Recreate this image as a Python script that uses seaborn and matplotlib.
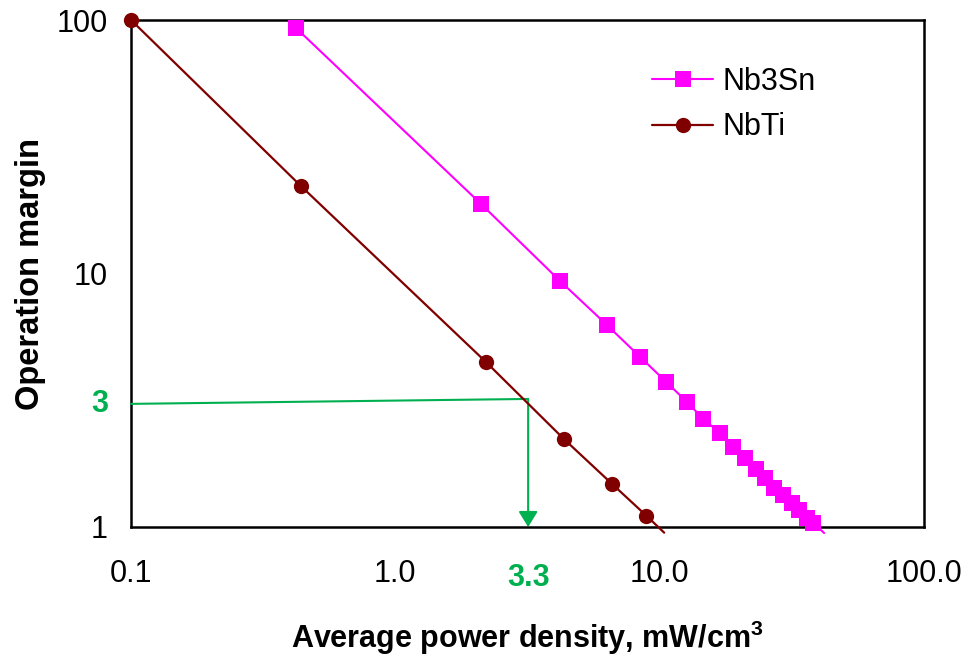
import matplotlib
matplotlib.use("Agg")
import matplotlib.pyplot as plt
import matplotlib.transforms as mtransforms
import seaborn as sns
import pandas as pd

# ---- data ----
nb3sn_x = [0.421, 2.11, 4.2, 6.32, 8.43, 10.6, 12.7, 14.6, 16.9, 19.0, 21.0,
           23.2, 25.1, 27.1, 29.3, 31.7, 33.7, 36.1, 38.0, 41.9]
nb3sn_y = [93.0, 18.8, 9.34, 6.26, 4.69, 3.73, 3.11, 2.67, 2.35, 2.07, 1.87,
           1.69, 1.56, 1.42, 1.34, 1.24, 1.17, 1.09, 1.04, 0.947]
nbti_x = [0.1, 0.44, 2.2, 4.35, 6.6, 8.89, 10.4]
nbti_y = [100.0, 22.1, 4.48, 2.22, 1.48, 1.11, 0.95]

x_ticks = [0.1, 1.0, 10.0, 100.0]
x_tick_labels = ["0.1", "1.0", "10.0", "100.0"]
y_ticks = [1, 10, 100]
y_tick_labels = ["1", "10", "100"]

guide_start = (0.1, 3.06)
guide_corner = (3.18, 3.2)
guide_end_y = 1.0
guide_y_label = "3"
guide_x_label = "3.3"

series_names = ["Nb3Sn", "NbTi"]

# ---- style ----
sns.set_style("white")
plt.rcParams["font.family"] = ["Liberation Sans", "DejaVu Sans"]
plt.rcParams["text.color"] = "black"
plt.rcParams["axes.labelcolor"] = "black"
plt.rcParams["xtick.color"] = "black"
plt.rcParams["ytick.color"] = "black"

MAGENTA = "#FF00FF"
BROWN = "#800000"
GREEN = "#00B050"

fig = plt.figure(figsize=(9.70, 6.57), dpi=100)
ax = fig.add_axes([131 / 970, 1 - 527 / 657, (924 - 131) / 970, (527 - 20) / 657])

df1 = pd.DataFrame({"x": nb3sn_x, "y": nb3sn_y})
df2 = pd.DataFrame({"x": nbti_x, "y": nbti_y})

sns.lineplot(data=df1, x="x", y="y", ax=ax, color=MAGENTA, lw=1.5,
             marker="s", markersize=11, markeredgewidth=0,
             markevery=list(range(len(nb3sn_x) - 1)), label=series_names[0],
             sort=False, estimator=None, clip_on=False, zorder=4)
sns.lineplot(data=df2, x="x", y="y", ax=ax, color=BROWN, lw=1.6,
             marker="o", markersize=11, markeredgewidth=0,
             markevery=list(range(len(nbti_x) - 1)), label=series_names[1],
             sort=False, estimator=None, clip_on=False, zorder=4)

ax.set_xscale("log")
ax.set_yscale("log")
ax.set_xlim(0.1, 100)
ax.set_ylim(1, 100)

ax.set_xticks(x_ticks)
ax.set_xticklabels(x_tick_labels)
ax.set_yticks(y_ticks)
ax.set_yticklabels(y_tick_labels)
ax.minorticks_off()
ax.tick_params(axis="both", which="major", direction="out", length=6.5,
               width=1.2, color="black", labelcolor="black", labelsize=22)
ax.tick_params(axis="y", pad=10)
ax.tick_params(axis="x", pad=16.5)

for s in ax.spines.values():
    s.set_color("black")
    s.set_linewidth(1.8)
    s.set_visible(True)

ax.set_xlabel("Average power density, mW/cm$^\\mathregular{3}$", fontsize=22,
              fontweight="bold", labelpad=21.5, color="black")
ax.set_ylabel("Operation margin", fontsize=23.5, fontweight="bold", labelpad=8,
              color="black")

# green guide
ax.plot([guide_start[0], guide_corner[0]], [guide_start[1], guide_corner[1]],
        color=GREEN, lw=1.5, clip_on=False, zorder=3)
ax.annotate("", xy=(guide_corner[0], guide_end_y), xytext=guide_corner,
            arrowprops=dict(arrowstyle="-|>,head_length=0.47,head_width=0.29",
                            color=GREEN, lw=1.5, shrinkA=0, shrinkB=0,
                            mutation_scale=20), zorder=3)

tr_y = mtransforms.blended_transform_factory(ax.transAxes, ax.transData)
ax.text(-0.039, guide_start[1], guide_y_label, transform=tr_y, color=GREEN,
        fontsize=22, fontweight="bold", ha="center", va="center")
tr_x = mtransforms.blended_transform_factory(ax.transData, ax.transAxes)
ax.text(guide_corner[0], -0.101, guide_x_label, transform=tr_x, color=GREEN,
        fontsize=22, fontweight="bold", ha="center", va="center")

leg = ax.legend(loc="upper left", bbox_to_anchor=(0.657, 0.907), frameon=False,
                fontsize=22, handlelength=2.0, handletextpad=0.3,
                labelspacing=0.5, borderaxespad=0, borderpad=0)
for t in leg.get_texts():
    t.set_color("black")

fig.savefig("out.png", dpi=100)
